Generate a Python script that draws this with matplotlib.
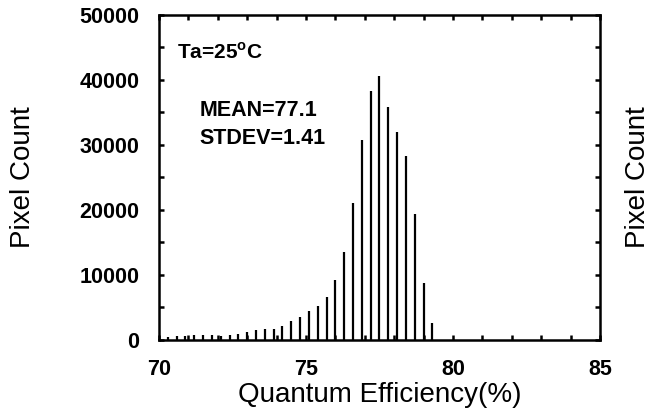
import numpy as np
import matplotlib
matplotlib.use('Agg')
import matplotlib.pyplot as plt
import matplotlib.ticker as mticker

plt.rcParams['font.family'] = ['Liberation Sans', 'DejaVu Sans']
plt.rcParams['mathtext.fontset'] = 'custom'
plt.rcParams['mathtext.bf'] = 'Liberation Sans:bold'
plt.rcParams['mathtext.rm'] = 'Liberation Sans'

# histogram of quantum efficiency, bins of 0.3 %
qe_start = 70.3
qe_step = 0.3
counts = [390, 590, 540, 690, 800, 690, 640, 690, 900, 1200, 1570, 1670, 1670,
          2180, 2850, 3600, 4500, 5200, 6540, 9200, 13600, 21000, 30800, 38300,
          40600, 35900, 32000, 28300, 19400, 8750, 2600]
qe = [round(qe_start + qe_step * i, 2) for i in range(len(counts))]

xticks = [70, 75, 80, 85]
yticks = [0, 10000, 20000, 30000, 40000, 50000]

fig = plt.figure(figsize=(6.54, 4.12), dpi=100)
ax = fig.add_axes([0.2431, 0.1748, 0.6743, 0.7888])

ax.vlines(qe, 0, counts, color='black', linewidth=1.6)

ax.set_xlim(70, 85)
ax.set_ylim(0, 50000)
ax.set_xticks(xticks)
ax.set_yticks(yticks)
ax.xaxis.set_minor_locator(mticker.MultipleLocator(1))
ax.yaxis.set_minor_locator(mticker.MultipleLocator(5000))
ax.tick_params(which='both', direction='in', top=True, right=True, width=1.8, length=3.5)
ax.tick_params(axis='x', which='major', pad=14)
ax.tick_params(axis='y', which='major', pad=14)
for lab in ax.get_xticklabels() + ax.get_yticklabels():
    lab.set_fontweight('bold')
    lab.set_fontsize(15.5)
for sp in ax.spines.values():
    sp.set_linewidth(1.8)

ax.set_xlabel('Quantum Efficiency(%)', fontsize=20, labelpad=1)
ax.set_ylabel('Pixel Count', fontsize=20, labelpad=31)
fig.text(0.975, 0.57, 'Pixel Count', fontsize=20, rotation=90, ha='center', va='center')

ax.text(0.04, 0.885, r'Ta=25$^{\mathbf{o}}$C', transform=ax.transAxes, fontsize=15,
        fontweight='bold', va='center', ha='left')
ax.text(0.092, 0.705, 'MEAN=77.1', transform=ax.transAxes, fontsize=15.5,
        fontweight='bold', va='center', ha='left')
ax.text(0.092, 0.62, 'STDEV=1.41', transform=ax.transAxes, fontsize=15.5,
        fontweight='bold', va='center', ha='left')

fig.savefig('out.png', dpi=100)
